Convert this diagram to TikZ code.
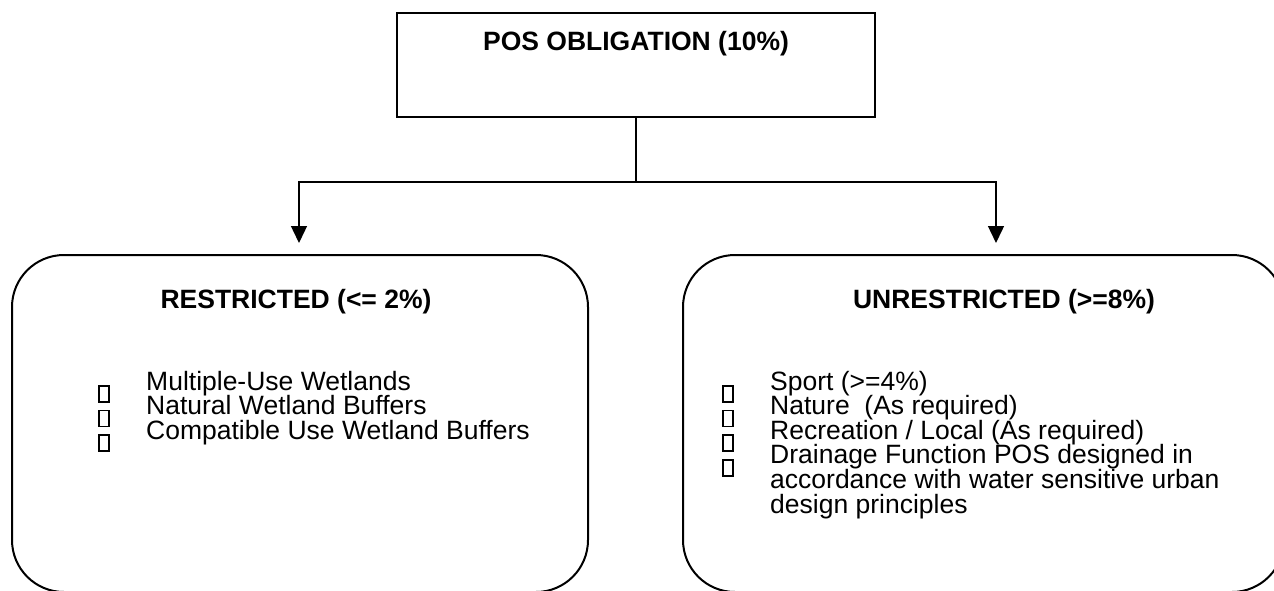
\documentclass[tikz,border=0pt]{standalone}
\usepackage{fontspec}
\setmainfont{Liberation Sans}
\usetikzlibrary{arrows.meta,positioning}

\begin{document}
\begin{tikzpicture}[x=1pt,y=-1pt]
\tikzstyle{frame}=[draw, line width=2pt, inner sep=0pt]
\tikzstyle{head}=[font=\fontsize{26.5}{30}\selectfont\bfseries, inner sep=0pt, anchor=base]
\tikzstyle{item}=[font=\fontsize{26.5}{24.6}\selectfont, inner sep=0pt, anchor=base west]
\tikzstyle{tick}=[draw, line width=1.6pt, minimum width=10pt, minimum height=16pt, inner sep=0pt]
\tikzstyle{link}=[line width=1.4pt]
\useasboundingbox (0,0) rectangle (1274,591);
\clip (0,0) rectangle (1274,591);

% boxes
\node[frame, minimum width=478pt, minimum height=104pt] (pos) at (636,65) {};
\node[head] (posT) at (636,51) {POS OBLIGATION (10\%)};
\node[frame, rounded corners=52pt, minimum width=576pt, minimum height=337pt] (res) at (300,423.5) {};
\node[frame, rounded corners=52pt, minimum width=601pt, minimum height=337pt] (unres) at (983.5,423.5) {};
\node[head] (resT) at (296,308) {RESTRICTED (<= 2\%)};
\node[head] (unresT) at (1004,308) {UNRESTRICTED (>=8\%)};

% connectors
\coordinate (split) at (636,182);
\coordinate (resIn) at (299,243);
\coordinate (unresIn) at (996,243);
\draw[link] (pos.south) -- (split);
\draw[link, -{Triangle[width=16pt,length=17pt]}] (split) -| (resIn);
\draw[link, -{Triangle[width=16pt,length=17pt]}] (split) -| (unresIn);

% restricted list
\node[tick] (b1) at (104,394) {};
\node[tick] (b2) at (104,418.6) {};
\node[tick] (b3) at (104,443.2) {};
\node[item] (l1) at (146,390) {Multiple-Use Wetlands};
\node[item] (l2) at (146,414.6) {Natural Wetland Buffers};
\node[item] (l3) at (146,439.2) {Compatible Use Wetland Buffers};

% unrestricted list
\node[tick] (c1) at (728,394) {};
\node[tick] (c2) at (728,418.6) {};
\node[tick] (c3) at (728,443.2) {};
\node[tick] (c4) at (728,467.8) {};
\node[item] (m1) at (770,390) {Sport (>=4\%)};
\node[item] (m2) at (770,414.6) {Nature\ \ (As required)};
\node[item] (m3) at (770,439.2) {Recreation / Local (As required)};
\node[item] (m4) at (770,463.8) {Drainage Function POS designed in};
\node[item] (m5) at (770,488.4) {accordance with water sensitive urban};
\node[item] (m6) at (770,513) {design principles};
\end{tikzpicture}
\end{document}
